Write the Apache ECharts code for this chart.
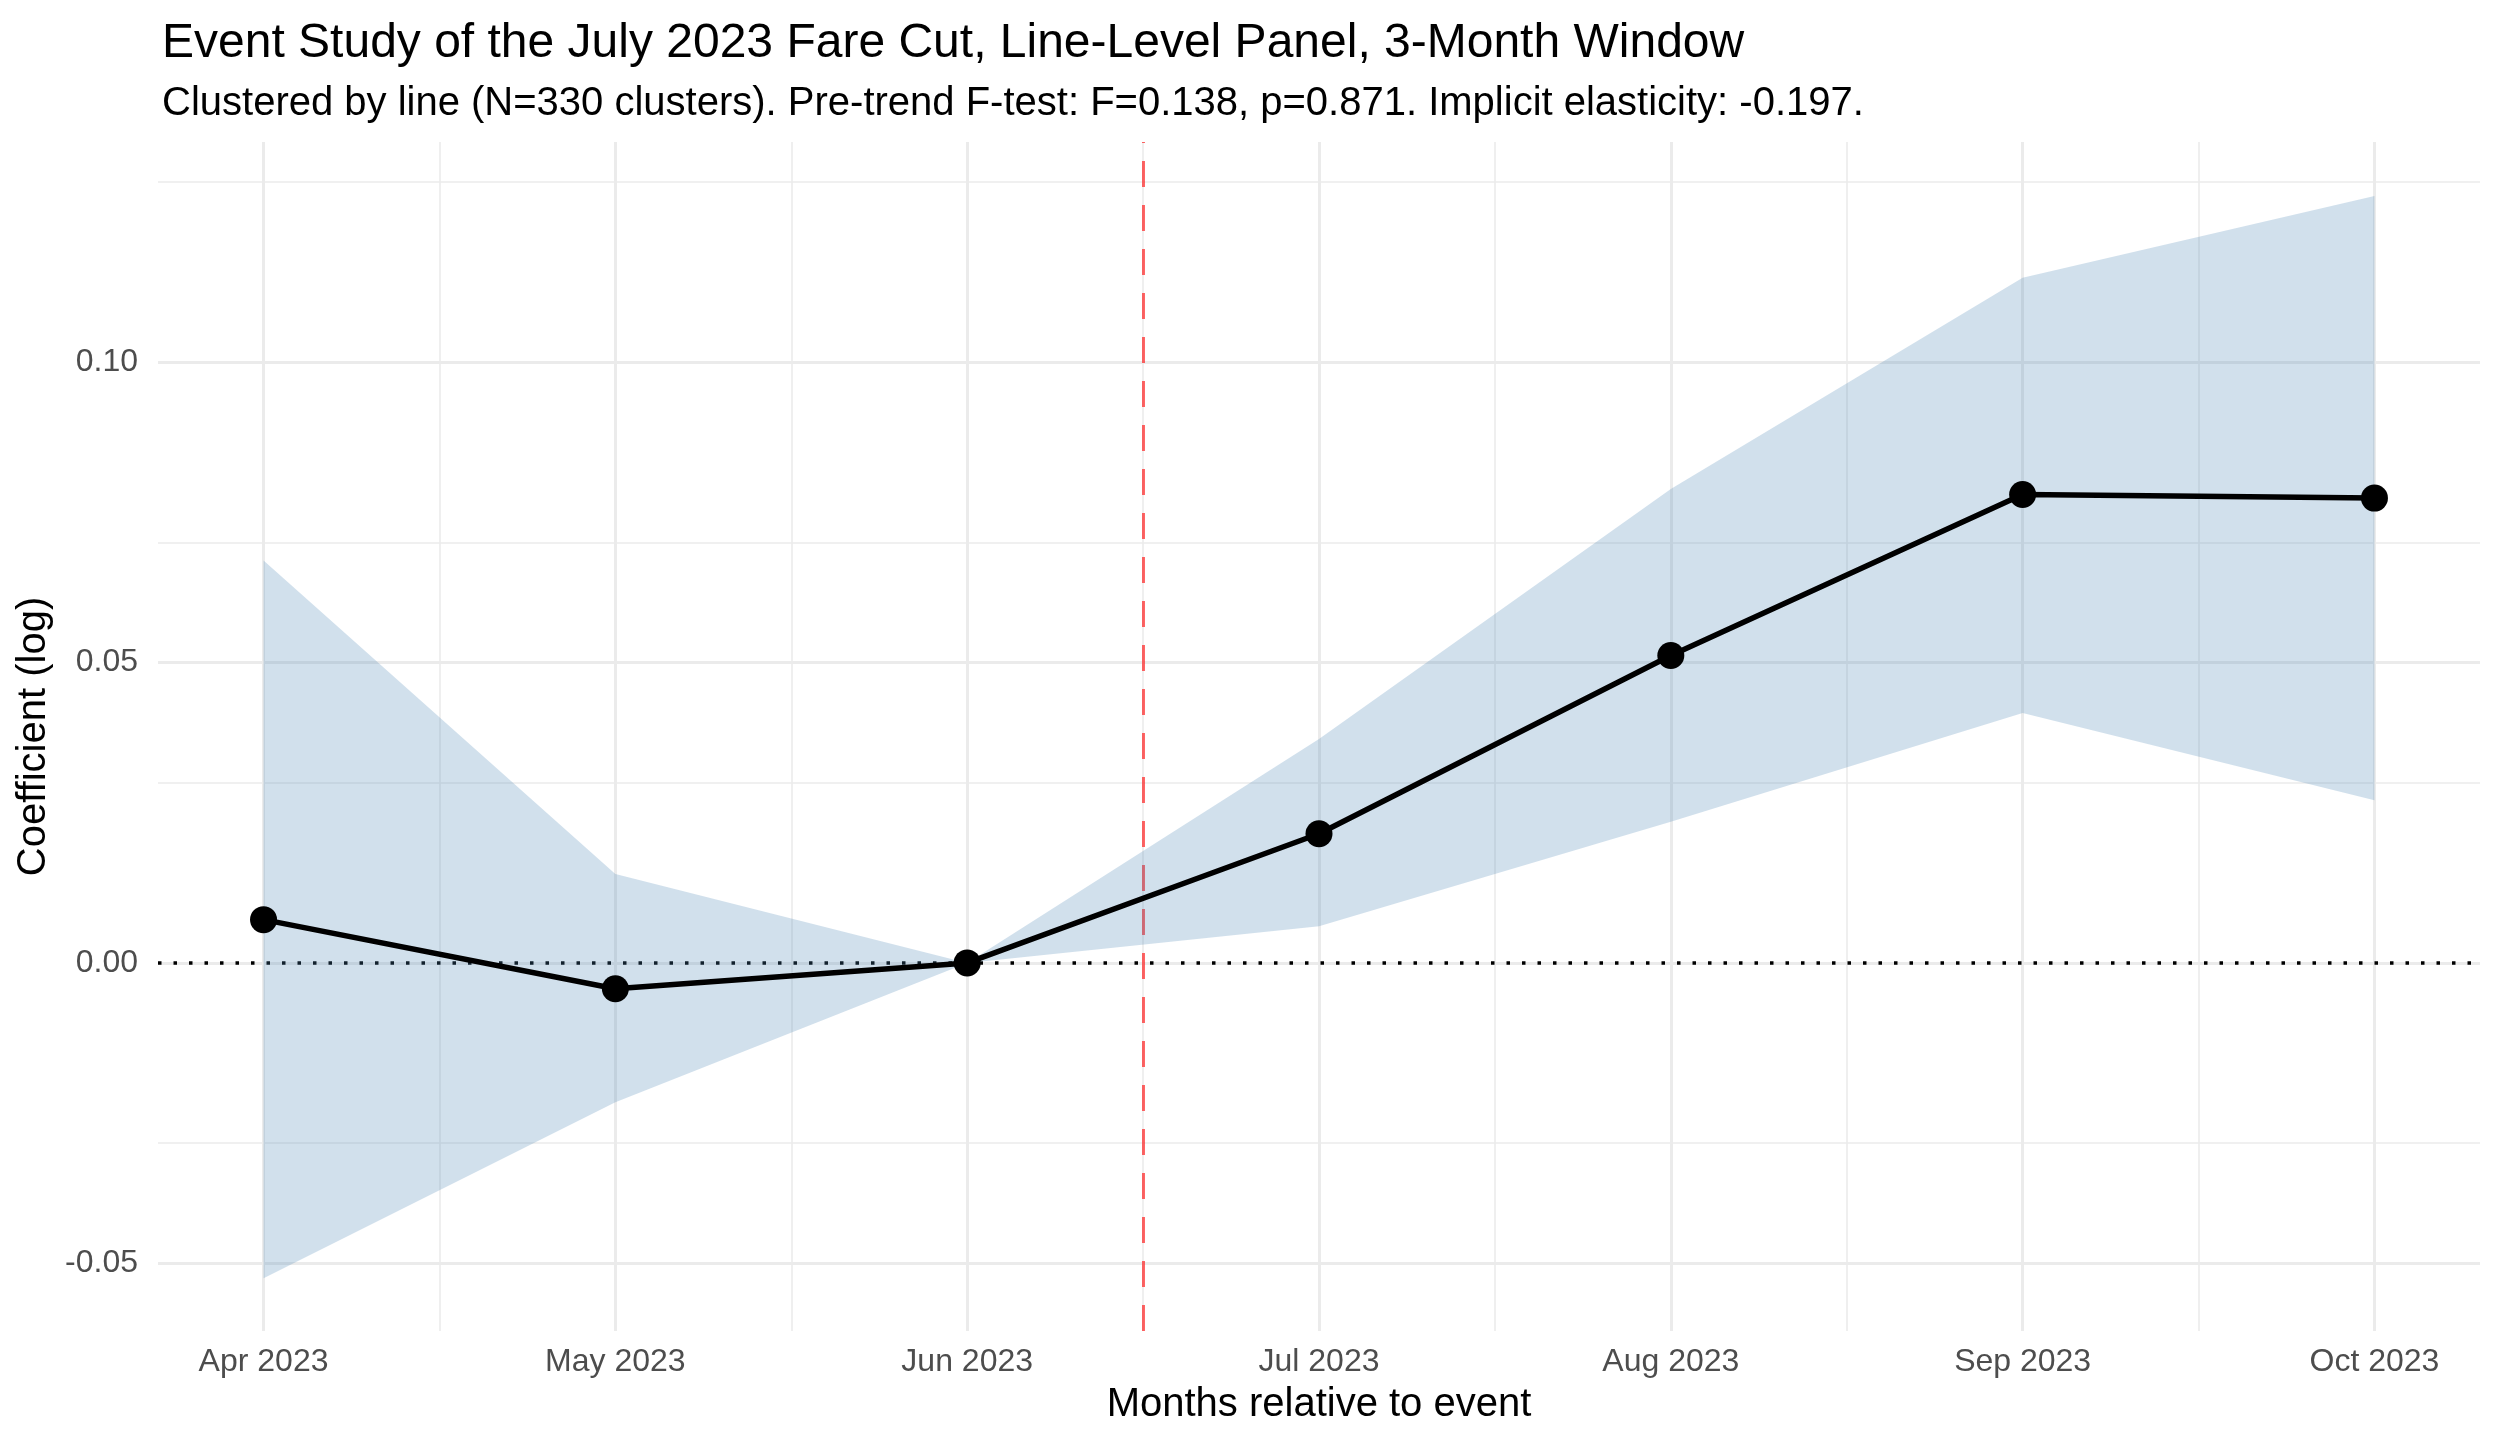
<!DOCTYPE html>
<html>
<head>
<meta charset="utf-8">
<script src="https://cdn.jsdelivr.net/npm/echarts@6/dist/echarts.min.js"></script>
<style>
  html, body { margin: 0; padding: 0; background: #fff; }
  #chart { width: 2500px; height: 1447px; }
</style>
</head>
<body>
<div id="chart"></div>
<script>
// event-study coefficients, one per month (Jun 2023 is the reference month)
const months = ['Apr 2023', 'May 2023', 'Jun 2023', 'Jul 2023', 'Aug 2023', 'Sep 2023', 'Oct 2023'];
const coef = [0.0072, -0.0043, 0, 0.0215, 0.0512, 0.0780, 0.0774];
const ciLow = [-0.0525, -0.0232, 0, 0.0061, 0.0235, 0.0416, 0.0271];
const ciHigh = [0.0670, 0.0148, 0, 0.0373, 0.0789, 0.1141, 0.1277];
const yTicks = [-0.05, 0, 0.05, 0.10];
const yMinor = [-0.025, 0.025, 0.075, 0.125];
const eventAt = 2.5; // fare cut, between Jun and Jul

(() => {
    window.addEventListener('load', () => {
        const font = 'Liberation Sans, Arial, Helvetica, sans-serif';
        let chart = echarts.init(document.getElementById('chart'));

        const xIdx = months.map((m, i) => i);
        const xMinor = xIdx.slice(1).map(i => i - 0.5);

        // gridlines drawn by hand so they can sit on ggplot-style positions
        const gridLines = [];
        xIdx.forEach(v => gridLines.push({ xAxis: v, lineStyle: { color: '#EBEBEB', width: 3, type: 'solid' } }));
        xMinor.forEach(v => gridLines.push({ xAxis: v, lineStyle: { color: '#EBEBEB', width: 1.6, type: 'solid' } }));
        yTicks.forEach(v => gridLines.push({ yAxis: v, lineStyle: { color: '#EBEBEB', width: 3, type: 'solid' } }));
        yMinor.forEach(v => gridLines.push({ yAxis: v, lineStyle: { color: '#EBEBEB', width: 1.6, type: 'solid' } }));
        gridLines.push({ yAxis: 0, lineStyle: { color: '#000', width: 3.5, type: [3.5, 12], cap: 'butt' } });
        gridLines.push({ xAxis: eventAt, lineStyle: { color: 'rgba(255,0,0,0.6)', width: 3, type: [26, 18] } });

        let option = {
            backgroundColor: '#fff',
            animation: false,
            title: [
                {
                    text: 'Event Study of the July 2023 Fare Cut, Line-Level Panel, 3-Month Window',
                    left: 157,
                    top: 15,
                    textStyle: { fontFamily: font, fontSize: 48, fontWeight: 'normal', color: '#000', lineHeight: 48 }
                },
                {
                    text: 'Clustered by line (N=330 clusters). Pre-trend F-test: F=0.138, p=0.871. Implicit elasticity: -0.197.',
                    left: 157,
                    top: 79,
                    textStyle: { fontFamily: font, fontSize: 40, fontWeight: 'normal', color: '#000', lineHeight: 40 }
                }
            ],
            grid: { left: 158, right: 20, top: 142, bottom: 116 },
            xAxis: {
                type: 'value',
                min: -0.3,
                max: 6.3,
                name: 'Months relative to event',
                nameLocation: 'middle',
                nameGap: 54,
                nameTextStyle: { fontFamily: font, fontSize: 40, color: '#000', lineHeight: 40 },
                axisLine: { show: false },
                axisTick: { show: false, customValues: xIdx },
                splitLine: { show: false },
                axisLabel: {
                    customValues: xIdx,
                    margin: 15,
                    fontFamily: font,
                    fontSize: 32,
                    lineHeight: 32,
                    color: '#4D4D4D',
                    formatter: v => months[Math.round(v)]
                }
            },
            yAxis: {
                type: 'value',
                min: -0.0613,
                max: 0.1367,
                name: 'Coefficient (log)',
                nameLocation: 'middle',
                nameGap: 99,
                nameTextStyle: { fontFamily: font, fontSize: 40, color: '#000', lineHeight: 40 },
                axisLine: { show: false },
                axisTick: { show: false, customValues: yTicks },
                splitLine: { show: false },
                axisLabel: {
                    customValues: yTicks,
                    margin: 20,
                    fontFamily: font,
                    fontSize: 32,
                    color: '#4D4D4D',
                    formatter: v => v.toFixed(2)
                }
            },
            series: [
                {
                    type: 'line',
                    z: 1,
                    silent: true,
                    symbol: 'none',
                    lineStyle: { opacity: 0 },
                    data: [[0, 0]],
                    markLine: {
                        z: 1,
                        silent: true,
                        symbol: 'none',
                        label: { show: false },
                        emphasis: { disabled: true },
                        animation: false,
                        data: gridLines
                    }
                },
                {
                    type: 'custom',
                    z: 2,
                    silent: true,
                    data: xIdx.map(i => [i, ciLow[i], ciHigh[i]]),
                    encode: { x: 0, y: [1, 2] },
                    renderItem: (params, api) => {
                        if (params.dataIndex !== 0) return { type: 'group', children: [] };
                        const top = ciHigh.map((v, i) => api.coord([i, v]));
                        const bottom = ciLow.map((v, i) => api.coord([i, v])).reverse();
                        return {
                            type: 'polygon',
                            shape: { points: top.concat(bottom) },
                            style: { fill: 'rgba(70,130,180,0.25)' }
                        };
                    }
                },
                {
                    type: 'line',
                    z: 3,
                    data: xIdx.map(i => [i, coef[i]]),
                    symbol: 'circle',
                    symbolSize: 27,
                    itemStyle: { color: '#000' },
                    lineStyle: { color: '#000', width: 5.5 }
                }
            ]
        };
        chart.setOption(option);
    });
})();
</script>
</body>
</html>
